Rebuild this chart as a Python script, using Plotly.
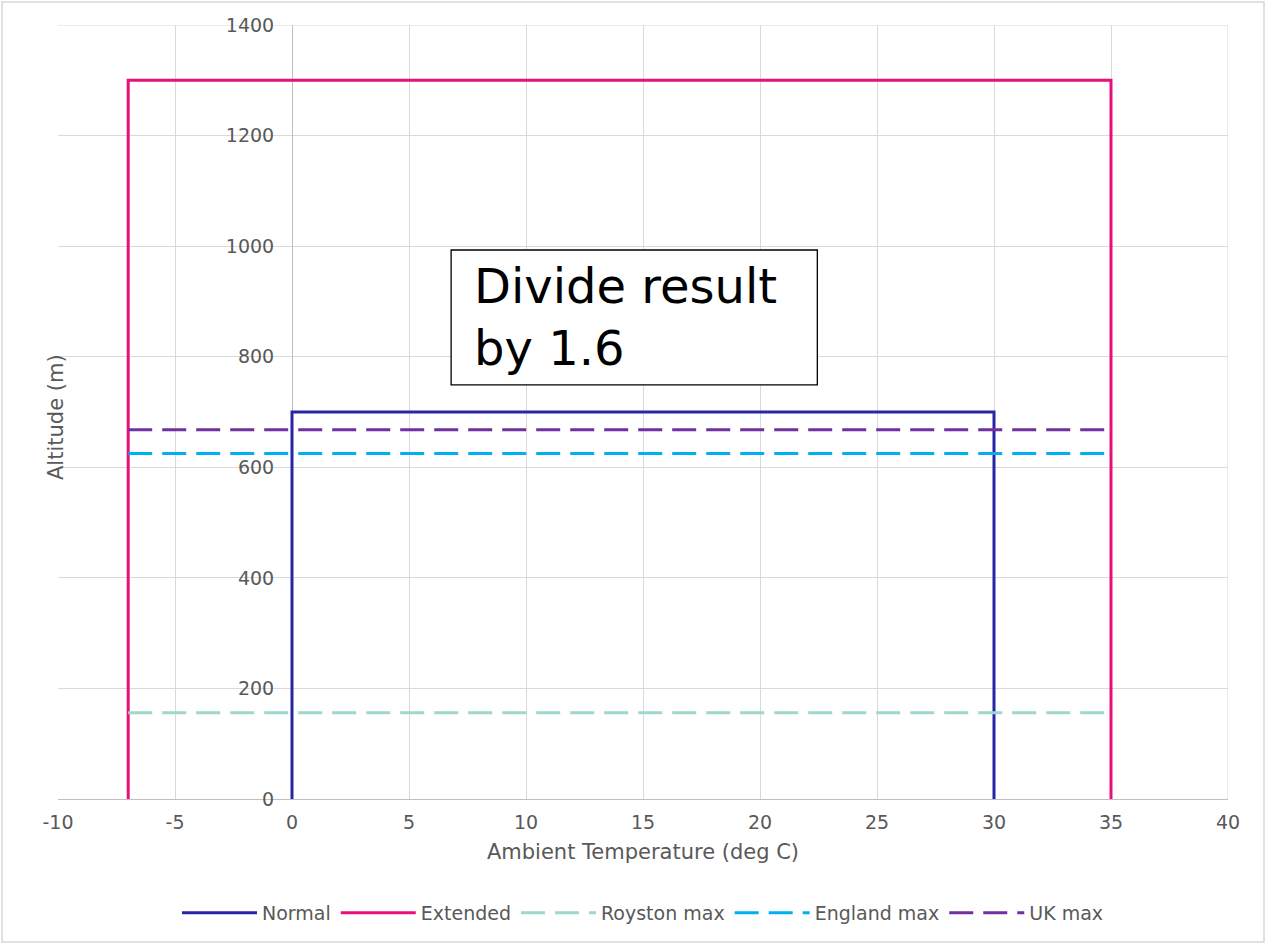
import plotly.graph_objects as go

# Operating envelopes (temperature in deg C, altitude in m)
normal_temp = [0, 0, 30, 30]
normal_alt = [0, 700, 700, 0]
extended_temp = [-7, -7, 35, 35]
extended_alt = [0, 1300, 1300, 0]

# Reference altitude lines spanning the extended range
ref_temp = [-7, 35]
royston_alt = [156, 156]
england_alt = [625, 625]
uk_alt = [668, 668]

x_ticks = [-10, -5, 0, 5, 10, 15, 20, 25, 30, 35, 40]
x_tick_text = ["-10", "-5", "0", "5", "10", "15", "20", "25", "30", "35", "40"]
y_ticks = [0, 200, 400, 600, 800, 1000, 1200, 1400]

FONT = "DejaVu Sans"
TXT = "#595959"
DASH = "24px,10px"

fig = go.Figure()
fig.add_trace(go.Scatter(x=normal_temp, y=normal_alt, mode="lines", name="Normal",
                         line=dict(color="#2626A6", width=3)))
fig.add_trace(go.Scatter(x=extended_temp, y=extended_alt, mode="lines", name="Extended",
                         line=dict(color="#EA0E7B", width=3)))
fig.add_trace(go.Scatter(x=ref_temp, y=royston_alt, mode="lines", name="Royston max",
                         line=dict(color="#9ED8CD", width=3, dash=DASH)))
fig.add_trace(go.Scatter(x=ref_temp, y=england_alt, mode="lines", name="England max",
                         line=dict(color="#00B0F0", width=3, dash=DASH)))
fig.add_trace(go.Scatter(x=ref_temp, y=uk_alt, mode="lines", name="UK max",
                         line=dict(color="#7030A0", width=3, dash=DASH)))

x_range = [-10, 40]
y_axis_pos = (0 - x_range[0]) / (x_range[1] - x_range[0])

fig.update_layout(
    width=1266, height=944,
    margin=dict(l=58, r=38, t=25, b=145),
    paper_bgcolor="white", plot_bgcolor="white",
    font=dict(family=FONT, size=19, color=TXT),
    xaxis=dict(range=x_range, tickvals=x_ticks, ticktext=x_tick_text,
               showgrid=True, gridcolor="#D9D9D9",
               gridwidth=1, zeroline=False, showline=True, linecolor="#BFBFBF",
               linewidth=1, ticks="", ticklabelstandoff=6, layer="below traces",
               tickfont=dict(family=FONT, size=19, color=TXT),
               title=dict(text="Ambient Temperature (deg C)", standoff=12,
                          font=dict(family=FONT, size=21, color=TXT))),
    yaxis=dict(range=[0, 1400], tickvals=y_ticks, showgrid=True, gridcolor="#D9D9D9",
               gridwidth=1, zeroline=False, showline=True, linecolor="#BFBFBF",
               linewidth=1, ticks="", anchor="free", position=y_axis_pos,
               ticklabelstandoff=14, layer="below traces",
               tickfont=dict(family=FONT, size=19, color=TXT)),
    legend=dict(orientation="h", x=0.5, xanchor="center", y=-0.147, yanchor="middle",
                font=dict(family=FONT, size=19, color=TXT), itemwidth=75),
    showlegend=True,
)

# Right and top plot edges drawn as gridlines
fig.add_shape(type="line", xref="x", yref="paper", x0=40, x1=40, y0=0, y1=1,
              line=dict(color="#D9D9D9", width=1), layer="below")
fig.add_shape(type="line", xref="paper", yref="y", x0=0, x1=1, y0=1400, y1=1400,
              line=dict(color="#D9D9D9", width=1), layer="below")

# Y axis title at the far left
fig.add_annotation(text="Altitude (m)", xref="paper", yref="paper",
                   x=(42 - 58) / 1170, y=(799 - 417) / 774, textangle=-90,
                   showarrow=False, font=dict(family=FONT, size=21, color=TXT))

# Note box
fig.add_shape(type="rect", xref="x", yref="y", x0=6.8, x1=22.45, y0=749, y1=993,
              line=dict(color="black", width=1.3), fillcolor="white", layer="above")
fig.add_annotation(text="Divide result<br>by 1.6", xref="x", yref="y",
                   x=7.7, y=871, xanchor="left", yanchor="middle", align="left",
                   showarrow=False, font=dict(family=FONT, size=48, color="black"))

# Chart outer border
fig.add_shape(type="rect", xref="paper", yref="paper",
              x0=(2 - 58) / 1170, x1=(1264 - 58) / 1170,
              y0=(799 - 942) / 774, y1=(799 - 2) / 774,
              line=dict(color="#D9D9D9", width=1.5), fillcolor="rgba(0,0,0,0)")

fig.write_html("out.html")
